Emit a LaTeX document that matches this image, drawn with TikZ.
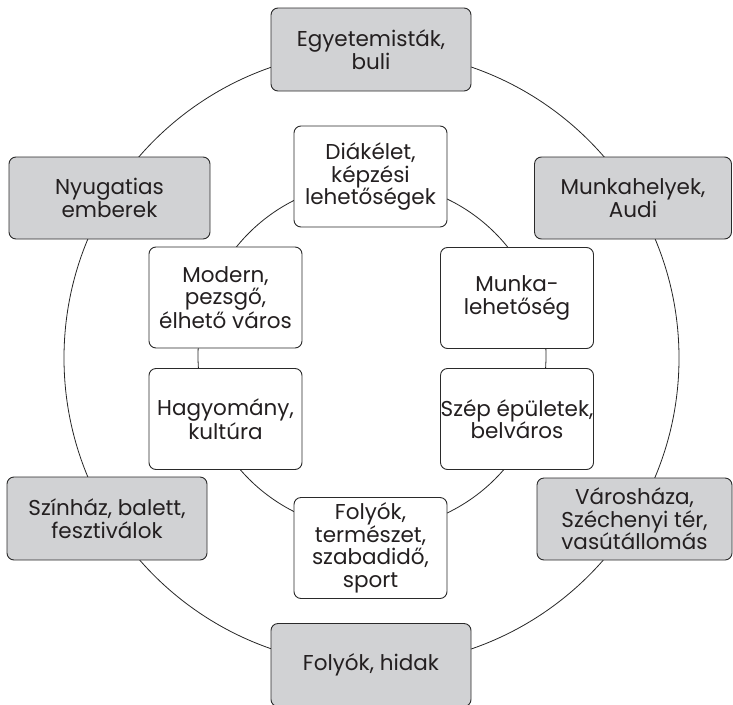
\documentclass[tikz,border=0pt]{standalone}
\usepackage{fontspec}
\setmainfont{Poppins}
\definecolor{boxgray}{HTML}{D1D2D4}
\definecolor{edge}{HTML}{2A2A2A}
\definecolor{ink}{HTML}{231F20}
\tikzset{
  base/.style={draw=edge, line width=0.9pt, rounded corners=7pt, align=center,
    font=\fontsize{21.5}{22.5}\selectfont, text=ink, inner sep=0pt},
  outerbox/.style={base, fill=boxgray, minimum width=200pt, minimum height=83pt},
  innerbox/.style={base, fill=white, minimum width=153pt, minimum height=101pt},
  ring/.style={draw=black!85, line width=0.8pt}
}
\begin{document}
\begin{tikzpicture}[x=1pt,y=-1pt]
\useasboundingbox (0,0) rectangle (733,704);
\clip (0,0) rectangle (733,704);
% rings
\draw[ring] (371.5,358) circle[radius=307.5pt];
\draw[ring] (372,356) circle[radius=174pt];
% outer boxes
\node[outerbox] (egy) at (371,49.5) {Egyetemisták,\\buli};
\node[outerbox, minimum width=201pt, minimum height=82pt] (nyu) at (109.5,198) {Nyugatias\\emberek};
\node[outerbox, minimum width=197pt, minimum height=82pt] (mhe) at (633,198) {Munkahelyek,\\Audi};
\node[outerbox, minimum height=83pt] (szin) at (107,518.5) {Színház, balett,\\fesztiválok};
\node[outerbox, minimum width=195pt, minimum height=82pt] (var) at (634.5,519) {Városháza,\\Széchenyi tér,\\vasútállomás};
\node[outerbox] (fh) at (371,665) {Folyók, hidak};
% inner boxes
\node[innerbox] (dia) at (370.5,176.5) {Diákélet,\\képzési\\lehetőségek};
\node[innerbox] (mod) at (225.5,297.5) {Modern,\\pezsgő,\\élhető város};
\node[innerbox] (mun) at (517,298) {Munka-\\lehetőség};
\node[innerbox] (hag) at (225.5,419) {Hagyomány,\\kultúra};
\node[innerbox] (szep) at (517,419) {Szép épületek,\\belváros};
\node[innerbox] (fol) at (370.5,548) {Folyók,\\természet,\\szabadidő,\\sport};
\end{tikzpicture}
\end{document}
